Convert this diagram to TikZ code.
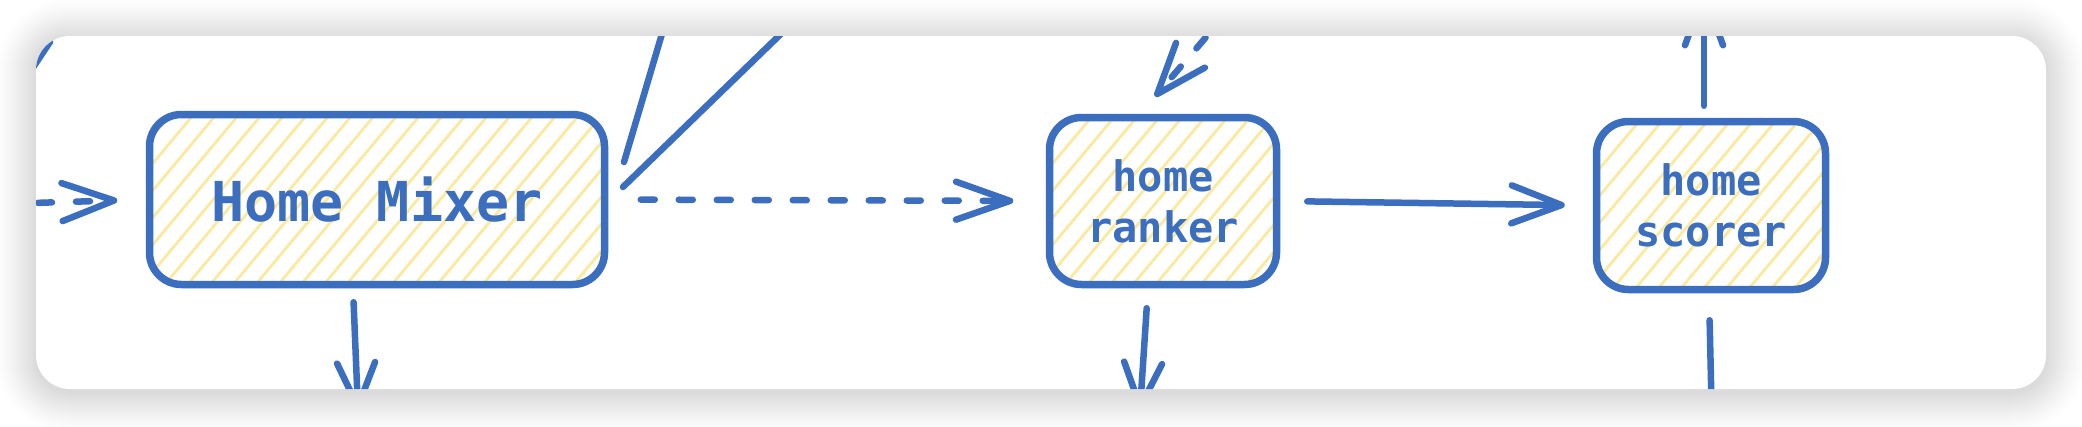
\documentclass[tikz,border=0pt]{standalone}
\usepackage{fontspec}
\newfontfamily\exmono{DejaVu Sans Mono}
\usetikzlibrary{arrows.meta}
\definecolor{exblue}{HTML}{3B6EBF}
\definecolor{hatchy}{HTML}{FBE9A0}
\tikzset{
  box/.style={draw=exblue, line width=7.5pt, rounded corners=32pt, inner sep=0pt,
    text=exblue, align=center,
    path picture={\foreach \i in {0,...,45}
      \draw[hatchline] ([xshift=\i*22.7pt-220pt,yshift=-10pt]path picture bounding box.south west) -- ++(190,-227);}},
  bigtext/.style={font=\exmono\bfseries\fontsize{55pt}{66pt}\selectfont},
  smalltext/.style={font=\exmono\bfseries\fontsize{42pt}{51pt}\selectfont},
  hatchline/.style={draw=hatchy, line width=2.8pt},
  conn/.style={draw=exblue, line width=6.5pt, line cap=round, line join=round},
  dashedconn/.style={conn, dash pattern=on 14pt off 24pt},
  barb/.style={-{Straight Barb[length=#1, width=38pt, round]}},
  barb/.default=50pt,
}
\begin{document}
\begin{tikzpicture}[x=1pt,y=-1pt]
\useasboundingbox (0,0) rectangle (2082,426);
\fill[white] (0,0) rectangle (2082,426);
% soft shadow of the card, drawn as nested solid layers
\foreach \d [evaluate=\d as \p using {14.5*(1-\d/42)^1.3},
             evaluate=\d as \r using 34+\d] in {41,40,...,1}
  \fill[black!\p!white, rounded corners=\r pt] (36-\d,39-\d) rectangle (2046+\d,392+\d);
\fill[white, rounded corners=34pt] (36,36) rectangle (2046,389);
\begin{scope}
\clip[rounded corners=34pt] (36,36) rectangle (2046,389);
% nodes
\node[box, bigtext, minimum width=455pt, minimum height=170pt] (hm) at (377,199.5) {Home Mixer};
\node[box, smalltext, minimum width=227pt, minimum height=167pt] (rk) at (1163,201) {home\\ranker};
\node[box, smalltext, minimum width=229pt, minimum height=168pt] (sc) at (1711,205.5) {home\\scorer};
% free ends
\coordinate (inA) at (0,204);
\coordinate (b1s) at (672,0);
\coordinate (b1e) at (624,162);
\coordinate (b2s) at (818,-2);
\coordinate (b2e) at (623,187);
\coordinate (upE) at (1704,-10);
\coordinate (dnF) at (1713,470);
\coordinate (dnG) at (358,410);
\coordinate (dnH) at (1140,410);
\coordinate (inI) at (1255,-20);
\coordinate (frag1) at (30,72);
\coordinate (frag2) at (50,42);
% connectors
\draw[dashedconn, barb=52pt, shorten >=28.5pt] (inA) -- (hm.west);
\draw[conn] (b1s) -- (b1e);
\draw[conn] (b2s) -- (b2e);
\draw[dashedconn, barb=54pt, shorten <=32.5pt, shorten >=32.5pt] (hm.east) -- (rk.west);
\draw[conn, barb=50pt, shorten <=27pt, shorten >=28pt] (rk.east) -- (sc.west);
\draw[conn, barb=52pt, shorten <=12pt] ([xshift=-7pt]sc.north) -- (upE);
\draw[conn, barb=50pt, shorten <=27pt] ([xshift=-2pt]sc.south) -- (dnF);
\draw[conn, barb=44pt, shorten <=14pt] ([xshift=-24pt]hm.south) -- (dnG);
\draw[conn, barb=44pt, shorten <=20pt] ([xshift=-15pt]rk.south) -- (dnH);
\draw[dashedconn, barb=51pt, shorten >=22.8pt] (inI) -- ([xshift=-22.7pt]rk.north);
\draw[conn] (frag1) -- (frag2);
\end{scope}
\end{tikzpicture}
\end{document}
